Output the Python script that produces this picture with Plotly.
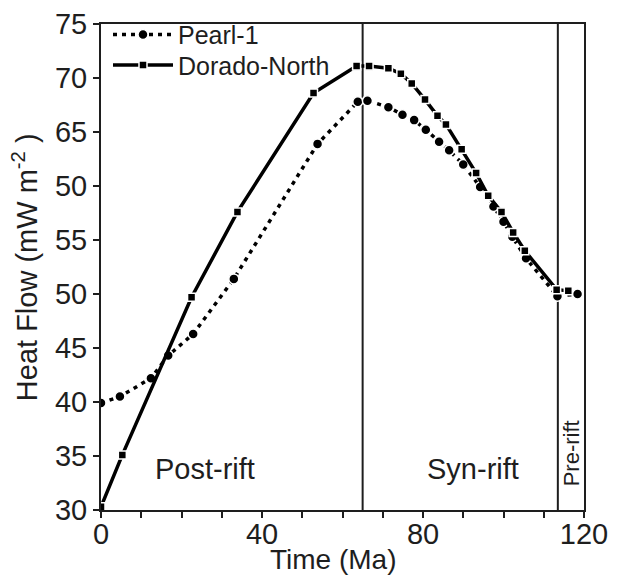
import plotly.graph_objects as go

# ---- data ----
pearl_x = [0, 4.7, 12.4, 16.7, 22.9, 33.0, 53.8, 63.8, 66.2, 71.4, 74.9, 77.8, 80.7, 84.0,
           86.5, 90.0, 94.2, 97.5, 100.0, 102.2, 105.6, 113.4, 118.4]
pearl_y = [39.9, 40.5, 42.2, 44.3, 46.3, 51.4, 63.9, 67.8, 67.9, 67.3, 66.6, 66.1, 65.2, 64.1,
           63.3, 62.0, 59.9, 58.1, 56.7, 55.3, 53.3, 49.8, 50.0]

dorado_x = [0, 5.3, 22.5, 33.9, 52.8, 63.5, 66.6, 71.4, 74.5, 77.2, 80.5, 83.6, 85.7, 89.6,
            93.2, 96.2, 99.5, 102.4, 105.3, 113.2, 116.1]
dorado_y = [30.3, 35.1, 49.7, 57.6, 68.6, 71.1, 71.1, 70.9, 70.4, 69.5, 68.0, 66.5, 65.7, 63.4,
            61.2, 59.1, 57.6, 55.7, 54.0, 50.4, 50.3]

series_names = ["Pearl-1", "Dorado-North"]
boundaries = [65, 113.5]
phase_labels = ["Post-rift", "Syn-rift", "Pre-rift"]

y_tickvals = [30, 35, 40, 45, 50, 55, 60, 65, 70, 75]
y_ticktext = ["30", "35", "40", "45", "50", "55", "50", "65", "70", "75"]
x_tickvals = [0, 40, 80, 120]
x_ticktext = ["0", "40", "80", "120"]
x_title = "Time (Ma)"
y_title = "Heat Flow (mW m<sup>-2</sup> )"

FONT = "Liberation Sans, Arial, sans-serif"
INK = "#1e1e1e"

fig = go.Figure()
fig.add_trace(go.Scatter(
    x=pearl_x, y=pearl_y, name=series_names[0], mode="lines+markers", legend="legend",
    line=dict(color="black", width=3.5, dash="4px,5px"),
    marker=dict(symbol="circle", size=10, color="black", line=dict(color="white", width=1.5)),
))
fig.add_trace(go.Scatter(
    x=dorado_x, y=dorado_y, name=series_names[1], mode="lines+markers", legend="legend2",
    line=dict(color="black", width=3.5),
    marker=dict(symbol="square", size=8, color="black", line=dict(color="white", width=1.5)),
))

for b in boundaries:
    fig.add_shape(type="line", x0=b, x1=b, y0=30, y1=75, xref="x", yref="y",
                  line=dict(color=INK, width=2), layer="below")

fig.add_annotation(x=25.8, y=33.8, text=phase_labels[0], showarrow=False,
                   font=dict(family=FONT, size=29, color=INK))
fig.add_annotation(x=92.4, y=33.8, text=phase_labels[1], showarrow=False,
                   font=dict(family=FONT, size=29, color=INK))
fig.add_annotation(x=116.9, y=35.2, text=phase_labels[2], showarrow=False, textangle=-90,
                   font=dict(family=FONT, size=22, color=INK))

# axis titles
fig.add_annotation(xref="paper", yref="paper", x=0.482, y=-0.102, text=x_title,
                   showarrow=False, xanchor="center", yanchor="middle",
                   font=dict(family=FONT, size=28, color=INK))
fig.add_annotation(xref="paper", yref="paper", x=-0.157, y=0.5, text=y_title,
                   showarrow=False, xanchor="center", yanchor="middle", textangle=-90,
                   font=dict(family=FONT, size=29, color=INK))

leg_common = dict(xanchor="left", yanchor="middle", bgcolor="rgba(0,0,0,0)",
                  font=dict(size=25, family=FONT, color=INK), itemwidth=60)
fig.update_layout(
    width=618, height=576,
    margin=dict(l=101, r=34, t=20, b=66),
    paper_bgcolor="white", plot_bgcolor="white",
    font=dict(family=FONT, color=INK),
    showlegend=True,
    legend=dict(x=0.0145, y=0.978, **leg_common),
    legend2=dict(x=0.0145, y=0.915, **leg_common),
)
fig.update_xaxes(
    range=[0, 120], tickvals=x_tickvals, ticktext=x_ticktext, automargin=False,
    ticks="outside", ticklen=6, tickwidth=2, tickcolor=INK, ticklabelstandoff=-9,
    minor=dict(dtick=10, ticks="outside", ticklen=6, tickwidth=2, tickcolor=INK),
    showline=True, linecolor=INK, linewidth=2, mirror=True,
    showgrid=False, zeroline=False,
    tickfont=dict(size=29, family=FONT, color=INK),
)
fig.update_yaxes(
    range=[30, 75], tickvals=y_tickvals, ticktext=y_ticktext, automargin=False,
    ticks="outside", ticklen=6, tickwidth=2, tickcolor=INK,
    showline=True, linecolor=INK, linewidth=2, mirror=True,
    showgrid=False, zeroline=False,
    tickfont=dict(size=29, family=FONT, color=INK),
)

fig.write_html("out.html", config={"displayModeBar": False},
               post_script="document.body.style.margin='0px';document.body.style.overflow='hidden';")
